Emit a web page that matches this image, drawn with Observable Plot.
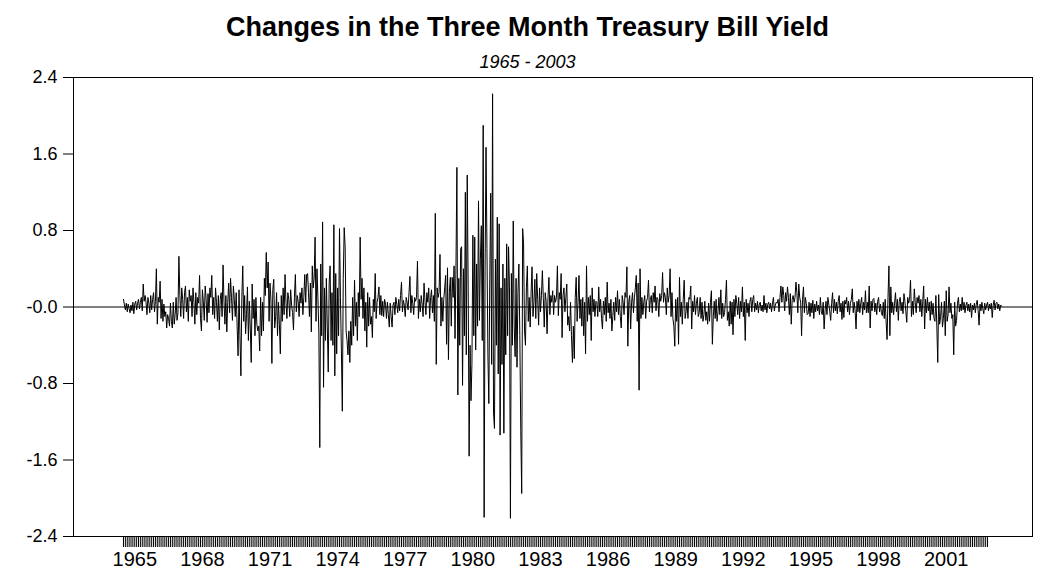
<!DOCTYPE html>
<html><head><meta charset="utf-8">
<script src="https://cdn.jsdelivr.net/npm/d3@7"></script>
<script src="https://cdn.jsdelivr.net/npm/@observablehq/plot@0.6"></script>
<style>
body{margin:0;background:#fff;font-family:"Liberation Sans",Arial,sans-serif;color:#000;}
#wrap{width:1055px;}
#title{height:52px;line-height:54px;text-align:center;font-weight:bold;font-size:27px;}
#subtitle{height:20px;line-height:20px;text-align:center;font-style:italic;font-size:18px;}
</style></head><body>
<div id="wrap">
<div id="title">Changes in the Three Month Treasury Bill Yield</div>
<div id="subtitle">1965 - 2003</div>
<div id="chart"></div>
</div>
<script>
// Semi-monthly changes (24 per year)
const chg1965 = [0.08,0.02,-0.03,0.04,-0.05,0.03,-0.02,-0.06,0.02,-0.04,0.05,-0.07,0.03,0.06,-0.03,0.04,0.08,-0.02,0.05,0.10,-0.04,0.24,0.06,0.12];
const chg1966 = [0.05,-0.08,0.10,0.04,-0.06,0.12,-0.03,0.08,0.15,-0.05,0.06,0.40,-0.18,0.10,0.05,0.27,-0.12,0.08,-0.15,0.03,-0.10,-0.05,-0.22,-0.08];
const chg1967 = [-0.12,-0.20,0.04,-0.15,-0.22,0.05,-0.18,-0.08,0.10,-0.14,-0.06,0.53,0.12,-0.10,0.20,0.08,-0.12,0.15,0.22,-0.05,0.10,-0.15,0.18,0.06];
const chg1968 = [0.12,-0.10,0.20,0.05,-0.18,0.15,-0.08,0.10,0.04,0.33,-0.12,-0.25,0.18,0.06,-0.14,0.22,0.08,-0.16,0.14,-0.06,0.20,0.10,0.33,-0.08];
const chg1969 = [0.10,-0.12,0.20,0.05,-0.15,0.12,-0.24,0.08,0.15,-0.10,0.44,0.06,-0.18,0.12,-0.26,0.05,0.25,-0.06,0.30,0.10,-0.14,0.22,0.08,-0.10];
const chg1970 = [0.15,-0.20,-0.51,0.18,-0.30,-0.72,0.10,0.43,-0.15,0.12,-0.28,-0.08,0.21,-0.35,0.06,-0.22,-0.58,0.24,-0.12,0.08,-0.30,0.10,-0.18,-0.25];
const chg1971 = [-0.20,-0.46,0.10,-0.30,0.05,-0.25,0.30,0.12,0.57,0.20,0.47,-0.15,0.25,0.08,-0.59,0.18,0.29,-0.22,-0.10,0.15,-0.30,0.05,-0.18,-0.49];
const chg1972 = [0.12,-0.15,0.20,-0.08,0.34,0.05,-0.12,0.15,0.08,-0.10,0.18,0.02,-0.06,-0.24,0.10,0.34,-0.05,0.12,0.06,-0.10,0.15,0.04,0.20,-0.08];
const chg1973 = [0.10,0.34,0.05,0.34,0.35,0.15,-0.10,0.25,-0.26,0.43,0.20,0.30,0.73,-0.15,0.40,0.10,-0.26,-1.47,0.45,-0.30,0.89,-0.84,0.20,-0.35];
const chg1974 = [0.30,-0.20,-0.68,0.25,0.43,-0.35,0.15,-0.40,0.86,-0.72,0.35,-0.49,0.20,-0.30,0.82,0.10,-0.45,-1.09,0.30,0.83,0.63,-0.25,-0.35,-0.50];
const chg1975 = [-0.25,-0.58,-0.15,-0.40,0.10,-0.30,0.28,-0.20,0.05,-0.35,0.15,-0.10,0.73,0.08,0.30,-0.12,0.20,-0.25,0.05,-0.42,0.15,-0.20,0.10,-0.18];
const chg1976 = [-0.10,-0.32,0.08,-0.05,0.35,-0.12,0.05,0.10,0.21,-0.08,0.12,-0.09,0.06,-0.10,0.08,0.03,-0.12,0.05,-0.08,-0.21,0.04,-0.10,-0.21,0.02];
const chg1977 = [0.05,-0.08,0.10,0.03,-0.06,0.08,-0.04,0.12,0.26,-0.05,0.07,0.02,-0.10,0.10,0.05,-0.03,0.15,0.32,-0.06,0.12,0.04,-0.08,0.10,0.06];
const chg1978 = [0.10,0.48,-0.12,0.08,-0.05,0.12,0.03,-0.10,0.25,0.06,-0.08,0.15,0.05,0.20,-0.12,0.10,0.18,-0.06,0.12,-0.15,0.98,-0.60,0.20,0.10];
const chg1979 = [0.15,0.55,-0.20,0.10,-0.15,0.08,0.20,0.33,-0.39,0.41,-0.55,0.15,0.31,-0.20,0.31,0.10,0.43,-0.33,0.42,1.46,-0.92,0.30,-0.40,0.61];
const chg1980 = [0.63,-0.82,0.40,-0.30,1.20,-0.50,1.38,0.20,-1.56,-0.40,-0.98,-0.60,0.75,-0.30,0.73,-0.45,0.45,-0.20,1.11,-0.14,0.50,0.85,-0.35,1.90];
const chg1981 = [-2.20,0.40,1.67,0.61,-0.50,-1.01,0.30,1.19,-0.60,2.23,-1.11,-1.27,0.50,-0.40,0.94,-0.70,0.87,-1.34,0.20,-0.60,0.45,-1.32,0.30,-0.50];
const chg1982 = [0.66,-0.30,0.63,0.20,-2.21,0.35,-0.40,0.90,-0.20,-0.52,0.30,-0.63,0.15,0.45,-0.30,-1.29,-1.95,0.82,0.66,-0.25,-0.40,0.20,0.43,-0.15];
const chg1983 = [0.10,-0.21,0.15,0.42,-0.10,0.05,0.29,-0.12,0.35,0.08,-0.19,0.20,-0.05,0.12,0.38,0.10,-0.21,0.15,0.06,-0.28,0.10,0.31,-0.08,0.12];
const chg1984 = [0.05,0.17,-0.08,0.12,0.05,0.10,0.43,-0.09,0.15,0.08,0.35,-0.32,0.12,0.20,-0.05,0.10,0.24,-0.19,-0.10,-0.25,0.05,-0.30,-0.58,-0.20];
const chg1985 = [-0.54,0.10,0.31,-0.15,0.05,0.33,-0.12,0.08,-0.20,0.10,-0.30,0.05,-0.49,0.43,-0.15,0.10,-0.08,0.12,-0.35,0.20,-0.05,0.08,-0.10,0.06];
const chg1986 = [0.05,-0.10,0.21,-0.05,0.08,-0.12,-0.23,0.06,-0.08,0.10,-0.15,0.26,-0.06,0.04,-0.12,0.08,-0.25,-0.10,0.05,-0.14,0.10,-0.05,0.17,-0.08];
const chg1987 = [0.08,-0.10,-0.22,0.12,0.05,-0.08,0.15,0.10,0.42,-0.41,0.06,0.12,-0.23,0.05,0.15,-0.06,0.10,0.20,0.33,-0.15,0.25,-0.87,0.40,-0.12];
const chg1988 = [0.10,-0.08,0.05,0.12,-0.12,0.06,0.10,0.28,-0.05,0.08,0.12,-0.06,0.15,0.05,0.22,-0.04,0.10,0.08,-0.10,0.14,0.06,0.12,0.36,0.05];
const chg1989 = [0.15,0.10,-0.08,0.20,0.05,0.12,0.40,-0.10,0.15,-0.12,-0.20,-0.41,0.08,-0.15,0.10,-0.39,0.31,-0.10,0.05,-0.18,0.08,0.28,-0.12,-0.05];
const chg1990 = [0.05,-0.12,0.10,0.08,0.22,-0.23,0.06,-0.05,0.12,-0.08,0.04,0.10,-0.10,-0.06,0.10,-0.12,0.05,-0.15,-0.08,0.06,-0.14,-0.05,-0.18,0.04];
const chg1991 = [-0.15,0.05,0.17,-0.39,-0.10,0.06,-0.12,0.08,-0.15,-0.05,0.10,-0.08,0.18,-0.12,0.04,-0.10,-0.06,0.08,0.28,-0.14,-0.05,-0.20,0.06,-0.18];
const chg1992 = [0.05,-0.29,0.08,-0.10,0.12,0.04,-0.08,0.10,-0.12,0.06,-0.05,0.21,-0.10,0.05,-0.35,0.08,-0.06,0.04,-0.10,0.06,0.10,-0.05,0.08,0.12];
const chg1993 = [-0.05,0.04,-0.03,0.06,-0.06,0.03,0.05,-0.04,0.02,-0.05,0.12,-0.03,0.04,-0.06,0.03,0.05,-0.02,0.04,-0.05,0.03,0.10,-0.04,0.02,0.05];
const chg1994 = [0.04,0.08,-0.05,0.10,0.22,0.05,0.21,0.12,-0.04,0.15,0.06,0.21,0.10,-0.08,0.14,-0.18,0.08,0.12,0.05,0.10,0.26,0.15,-0.06,0.24];
const chg1995 = [0.10,0.05,-0.30,0.08,0.21,-0.06,0.10,0.04,-0.08,-0.07,0.05,-0.10,0.04,-0.06,0.07,-0.12,0.03,-0.05,0.06,-0.04,0.02,-0.08,0.10,-0.05];
const chg1996 = [-0.08,0.05,-0.23,-0.04,0.06,-0.08,0.10,0.03,-0.05,-0.14,0.04,0.15,-0.06,0.08,-0.04,0.05,-0.07,0.06,0.12,-0.05,0.04,-0.13,0.06,-0.11];
const chg1997 = [0.07,0.03,0.10,-0.05,0.06,-0.08,0.04,0.08,0.19,-0.06,0.05,-0.04,-0.23,0.06,-0.05,0.08,-0.06,0.04,0.10,-0.08,0.05,-0.03,0.17,-0.06];
const chg1998 = [0.05,-0.06,0.22,-0.22,0.06,-0.04,0.08,0.09,-0.05,0.04,-0.08,0.06,0.10,-0.05,0.03,-0.06,-0.09,0.05,-0.12,0.08,-0.15,-0.34,0.10,0.43];
const chg1999 = [-0.30,0.21,-0.06,0.05,-0.08,0.04,0.15,-0.05,0.08,-0.14,0.06,0.10,-0.04,0.05,-0.07,0.14,0.06,-0.05,-0.16,0.10,0.04,0.08,0.28,-0.10];
const chg2000 = [0.06,-0.08,0.19,0.05,-0.06,0.10,0.04,0.12,-0.05,0.08,-0.10,0.06,0.22,-0.23,0.08,-0.06,0.10,-0.04,0.05,-0.14,0.06,-0.08,0.04,-0.12];
const chg2001 = [-0.15,0.12,-0.20,-0.58,0.13,-0.18,-0.10,0.05,-0.21,-0.12,0.06,-0.30,0.17,-0.15,-0.08,0.21,-0.06,0.04,-0.12,-0.08,-0.50,0.05,-0.20,-0.14];
const chg2002 = [0.04,0.10,-0.05,0.03,-0.04,0.10,-0.03,0.05,-0.06,0.02,0.05,-0.04,0.03,-0.05,0.04,-0.11,0.02,-0.03,0.04,-0.06,0.03,0.07,-0.04,-0.19];
const chg2003 = [0.03,-0.04,0.05,-0.02,-0.07,0.04,-0.03,0.02,0.05,-0.04,0.03,-0.02,0.04,-0.11,0.02,0.07,-0.03,0.04,0.05,-0.02,0.03,-0.04,0.02,0.01];

const years = d3.range(1965, 2004);
const yearSeries = [chg1965,chg1966,chg1967,chg1968,chg1969,chg1970,chg1971,chg1972,chg1973,chg1974,
  chg1975,chg1976,chg1977,chg1978,chg1979,chg1980,chg1981,chg1982,chg1983,chg1984,
  chg1985,chg1986,chg1987,chg1988,chg1989,chg1990,chg1991,chg1992,chg1993,chg1994,
  chg1995,chg1996,chg1997,chg1998,chg1999,chg2000,chg2001,chg2002,chg2003];

const yTicks = [2.4, 1.6, 0.8, 0, -0.8, -1.6, -2.4];
const yTickLabels = ["2.4", "1.6", "0.8", "-0.0", "-0.8", "-1.6", "-2.4"];
const xLabelYears = [1965, 1968, 1971, 1974, 1977, 1980, 1983, 1986, 1989, 1992, 1995, 1998, 2001];

const data = [];
years.forEach((yr, k) => {
  const arr = yearSeries[k];
  arr.forEach((v, i) => data.push({t: yr + i / arr.length, v}));
});

const monthTicks = d3.range(0, 461).map(k => 1965 + k / 12);
const labelTicks = xLabelYears.map(y => y + 0.5);

const chart = Plot.plot({
  width: 1055,
  height: 500,
  marginLeft: 73,
  marginRight: 23,
  marginTop: 5,
  marginBottom: 36,
  style: {fontFamily: '"Liberation Sans", Arial, sans-serif', color: "#000", background: "#fff", overflow: "visible"},
  x: {domain: [1962.782, 2005.328], axis: null},
  y: {domain: [-2.4, 2.4], axis: null},
  marks: [
    Plot.ruleY([0], {stroke: "#000", strokeWidth: 1}),
    Plot.line(data, {x: "t", y: "v", stroke: "#000", strokeWidth: 1}),
    Plot.frame({stroke: "#000", strokeWidth: 1}),
    Plot.axisY({ticks: yTicks, tickFormat: (d) => yTickLabels[yTicks.indexOf(d)], tickSize: 10, tickPadding: 6, fontSize: 18, stroke: "#000", fill: "#000", label: null}),
    Plot.axisX({ticks: monthTicks, tickFormat: () => "", tickSize: 11, stroke: "#000", strokeWidth: 1, label: null}),
    Plot.axisX({ticks: labelTicks, tickFormat: d => String(Math.floor(d)), tickSize: 0, tickPadding: 15, fontSize: 20, fill: "#000", label: null})
  ]
});
document.getElementById("chart").appendChild(chart);
</script>
</body></html>
